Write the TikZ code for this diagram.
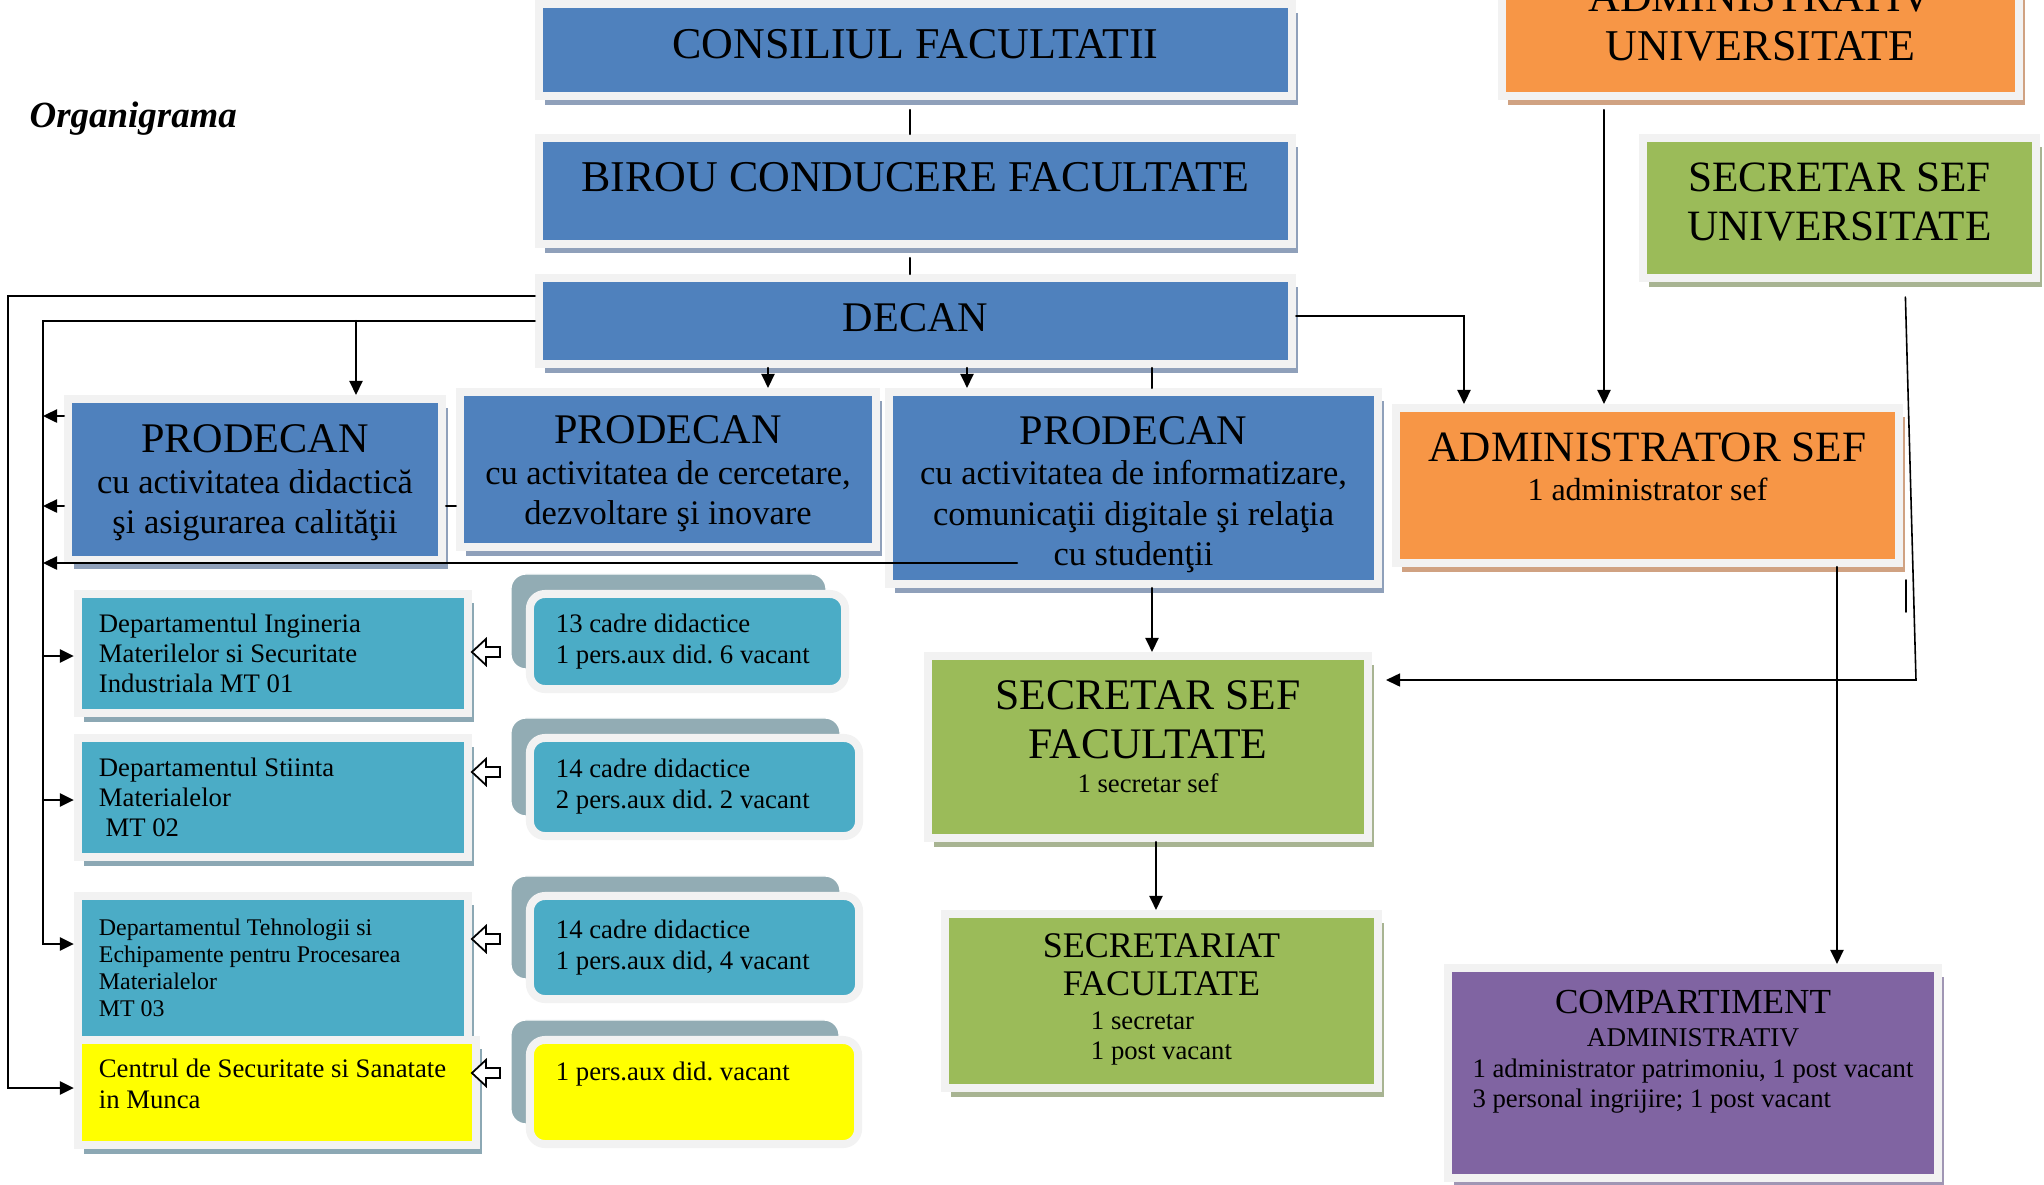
\documentclass[tikz,border=0pt]{standalone}
\usepackage{fontspec}
\setmainfont{Liberation Serif}
\usetikzlibrary{arrows.meta,shadows}
\frenchspacing

\definecolor{ofblue}{HTML}{4F81BD}
\definecolor{oforange}{HTML}{F79646}
\definecolor{ofgreen}{HTML}{9BBB59}
\definecolor{ofpurple}{HTML}{8064A2}
\definecolor{ofaqua}{HTML}{4BACC6}
\definecolor{ofyellow}{HTML}{FFFF00}
\definecolor{framegray}{HTML}{F2F2F2}
\definecolor{blueshd}{RGB}{143,160,186}
\definecolor{orangeshd}{RGB}{208,162,130}
\definecolor{greenshd}{RGB}{168,180,146}
\definecolor{aquashd}{RGB}{140,168,180}
\definecolor{purpleshd}{RGB}{160,150,180}
\definecolor{cardgray}{RGB}{146,172,180}

\newcommand{\bigtxt}[1]{\fontsize{#1}{13.9}\selectfont}
\newcommand{\midtxt}{\fontsize{9.8}{11.5}\selectfont}
\newcommand{\smalltxt}{\fontsize{7.6}{8.5}\selectfont}
\newcommand{\sdepth}[1]{\rule[-#1]{0pt}{0pt}}
\newcommand{\sheight}[1]{\rule{0pt}{#1}}

\begin{document}
\begin{tikzpicture}[x=0.01cm, y=-0.01cm, line cap=round,
		>={Triangle[length=0.14cm,width=0.13cm]},
		box/.style={rectangle, draw=framegray, line width=0.08cm, line join=miter, inner sep=0pt, align=center},
		bluebox/.style={box, fill=ofblue, drop shadow={shadow xshift=0.06cm, shadow yshift=-0.09cm, fill=blueshd, opacity=1}},
		orangebox/.style={box, fill=oforange, drop shadow={shadow xshift=0.06cm, shadow yshift=-0.09cm, fill=orangeshd, opacity=1}},
		greenbox/.style={box, fill=ofgreen, drop shadow={shadow xshift=0.06cm, shadow yshift=-0.09cm, fill=greenshd, opacity=1}},
		purplebox/.style={box, fill=ofpurple, drop shadow={shadow xshift=0.06cm, shadow yshift=-0.09cm, fill=purpleshd, opacity=1}},
		deptbox/.style={box, fill=ofaqua, align=flush left, inner xsep=0.21cm, font=\smalltxt, drop shadow={shadow xshift=0.06cm, shadow yshift=-0.09cm, fill=aquashd, opacity=1}},
		cardbox/.style={box, rounded corners=0.15cm, fill=ofaqua, align=flush left, inner xsep=0.26cm, font=\fontsize{7.6}{8.8}\selectfont, general shadow={shadow xshift=-0.19cm, shadow yshift=0.2cm, fill=cardgray, draw=white, line width=0.4pt}},
		link/.style={line width=0.7pt},
		thinlink/.style={line width=0.45pt},
		hollow/.style={draw=black, fill=white, line width=0.5pt, line join=miter}]
	\useasboundingbox (0,0) rectangle (2044,1184);
	\clip (0,0) rectangle (2044,1184);

	\node[font=\bfseries\itshape\fontsize{10.5}{12}\selectfont, anchor=base west, inner sep=0pt] (title) at (29,127) {Organigrama};

	% conducere
	\node[bluebox, font=\bigtxt{12.5}, minimum width=7.53cm, minimum height=0.92cm] (cons) at (915.5,50) {CONSILIUL FACULTATII\sdepth{0.12cm}};
	\node[bluebox, font=\bigtxt{12.5}, minimum width=7.53cm, minimum height=1.06cm] (birou) at (915.5,191) {BIROU CONDUCERE FACULTATE\sdepth{0.28cm}};
	\node[bluebox, font=\bigtxt{12}, minimum width=7.53cm, minimum height=0.86cm] (decan) at (915.5,321) {DECAN\sdepth{0.06cm}};

	% prodecani
	\node[bluebox, font=\midtxt, minimum width=3.74cm, minimum height=1.61cm] (p1) at (255,479.5) {{\bigtxt{12}PRODECAN}\sheight{0.35cm}\\cu activitatea didactică\\şi asigurarea calităţii};
	\node[bluebox, font=\midtxt, minimum width=4.16cm, minimum height=1.55cm] (p2) at (668,469.5) {{\bigtxt{12}PRODECAN}\sheight{0.37cm}\\cu activitatea de cercetare,\\dezvoltare şi inovare};
	\node[bluebox, font=\midtxt, minimum width=4.89cm, minimum height=1.92cm] (p3) at (1133.5,488) {{\bigtxt{12}PRODECAN}\sheight{0.41cm}\\cu activitatea de informatizare,\\comunicaţii digitale şi relaţia\\cu studenţii};

	% administrativ
	\node[orangebox, font=\bigtxt{12.5}, minimum width=5.17cm, minimum height=1.48cm] (adu) at (1760.5,22) {ADMINISTRATIV\\UNIVERSITATE};
	\node[orangebox, font=\fontsize{12.3}{11.1}\selectfont, minimum width=5.03cm, minimum height=1.55cm] (adm) at (1647.5,485.5) {ADMINISTRATOR SEF\\{\fontsize{9.1}{11}\selectfont 1 administrator sef}\sdepth{0.38cm}};
	\node[purplebox, font=\fontsize{10}{9.4}\selectfont, minimum width=4.90cm, minimum height=2.10cm] (comp) at (1693,1073) {COMPARTIMENT\\{\fontsize{7.7}{8}\selectfont ADMINISTRATIV}\\[-0.6pt]{\fontsize{7.6}{8.5}\selectfont\begin{tabular}[t]{@{}l@{}}1 administrator patrimoniu, 1 post vacant\\3 personal ingrijire; 1 post vacant\sdepth{0.49cm}\end{tabular}}};

	% secretariat
	\node[greenbox, font=\bigtxt{12.3}, minimum width=3.93cm, minimum height=1.40cm] (ssu) at (1839.5,208) {SECRETAR SEF\\UNIVERSITATE\sdepth{0.13cm}};
	\node[greenbox, font=\bigtxt{12.4}, minimum width=4.40cm, minimum height=1.82cm] (ssf) at (1148,747) {SECRETAR SEF\\FACULTATE\\[-4.2pt]{\smalltxt 1 secretar sef}\sdepth{0.21cm}};
	\node[greenbox, font=\fontsize{10.25}{10.8}\selectfont, minimum width=4.33cm, minimum height=1.74cm] (sec) at (1161.5,1001) {SECRETARIAT\\FACULTATE\\[-1.1pt]{\smalltxt\begin{tabular}[t]{@{}l@{}}1 secretar\\1 post vacant\end{tabular}}};

	% departamente
	\node[deptbox, minimum width=3.90cm, minimum height=1.19cm, text width=3.48cm] (d1) at (273,653.5) {Departamentul Ingineria\\Materilelor si Securitate\\Industriala MT 01};
	\node[deptbox, minimum width=3.90cm, minimum height=1.19cm, text width=3.48cm] (d2) at (273,797.5) {Departamentul Stiinta\\Materialelor\\~MT 02};
	\node[deptbox, font=\fontsize{6.8}{7.7}\selectfont, minimum width=3.90cm, minimum height=1.44cm, text width=3.48cm] (d3) at (273,968) {Departamentul Tehnologii si\\Echipamente pentru Procesarea\\Materialelor\\MT 03};
	\node[deptbox, fill=ofyellow, font=\fontsize{7.6}{8.8}\selectfont, minimum width=3.98cm, minimum height=1.05cm, text width=3.56cm] (d4) at (277,1092.5) {Centrul de Securitate si Sanatate\\in Munca\sdepth{0.18cm}};

	% personal
	\node[cardbox, minimum width=3.15cm, minimum height=0.95cm, text width=2.63cm] (r1) at (687.5,641.5) {13 cadre didactice\\1 pers.aux did. 6 vacant};
	\node[cardbox, minimum width=3.29cm, minimum height=0.98cm, text width=2.77cm] (r2) at (694.5,787) {14 cadre didactice\\2 pers.aux did. 2 vacant};
	\node[cardbox, minimum width=3.29cm, minimum height=1.03cm, text width=2.77cm] (r3) at (694.5,947.5) {14 cadre didactice\\1 pers.aux did, 4 vacant};
	\node[cardbox, fill=ofyellow, minimum width=3.28cm, minimum height=1.04cm, text width=2.76cm] (r4) at (694,1092) {1 pers.aux did. vacant\sdepth{0.42cm}};

	% legaturi
	\draw[link, shorten <=0.1cm] (910,0 |- cons.south) -- (910,0 |- birou.north);
	\draw[link, shorten <=0.1cm] (910,0 |- birou.south) -- (910,0 |- decan.north);
	\coordinate (bus) at (43,321);
	\draw[link,->] (decan.west |- 0,296) -| (8,1088) -- (d4.west |- 0,1088);
	\draw[link,->] (decan.west) -- (bus) |- (d3.west |- 0,944);
	\foreach \i/\yy in {1/656,2/800}
		\draw[link,->] (bus |- 0,\yy) -- (d\i.west |- 0,\yy);
	\draw[link,->] (356,0 |- bus) -- (356,0 |- p1.north);
	\foreach \yy in {416,506}
		\draw[link,->] (p1.west |- 0,\yy) -- (bus |- 0,\yy);
	\coordinate (p3tail) at (1017,563);
	\draw[link,->] (p3tail) -- (bus |- p3tail);
	\draw[link] (p1.east |- 0,506) -- (p2.west |- 0,506);
	\draw[link,->] (768,0 |- decan.south) -- (768,0 |- p2.north);
	\draw[link,->] (967,0 |- decan.south) -- (967,0 |- p3.north);
	\draw[link] (1152,0 |- decan.south) -- (1152,0 |- p3.north);
	\draw[link,->] (decan.east |- 0,316) -| (1464,0 |- adm.north);
	\draw[link,->, shorten <=0.1cm] (1604,0 |- adu.south) -- (1604,0 |- adm.north);
	\draw[link,->] (1837,0 |- adm.south) -- (1837,0 |- comp.north);
	\draw[link,->] (1152,0 |- p3.south) -- (1152,0 |- ssf.north);
	\draw[link,->] (1156,0 |- ssf.south) -- (1156,0 |- sec.north);
	\coordinate (ssfin) at (1386,680);
	\draw[thinlink,->, shorten <=0.15cm] (1905,0 |- ssu.south) -- (1916,680) -- (ssfin);
	\draw[thinlink] (1906,580) -- (1906,612);
	% sageti goale
	\foreach \i/\yy in {1/652,2/772,3/939,4/1073}
		\draw[hollow] (r\i.west |- 0,\yy) ++(-26,0) -- ++(0,-5) -- ++(-14,0) -- ++(0,-8) -- ++(-14,13) -- ++(14,13) -- ++(0,-8) -- ++(14,0) -- cycle;
\end{tikzpicture}
\end{document}
